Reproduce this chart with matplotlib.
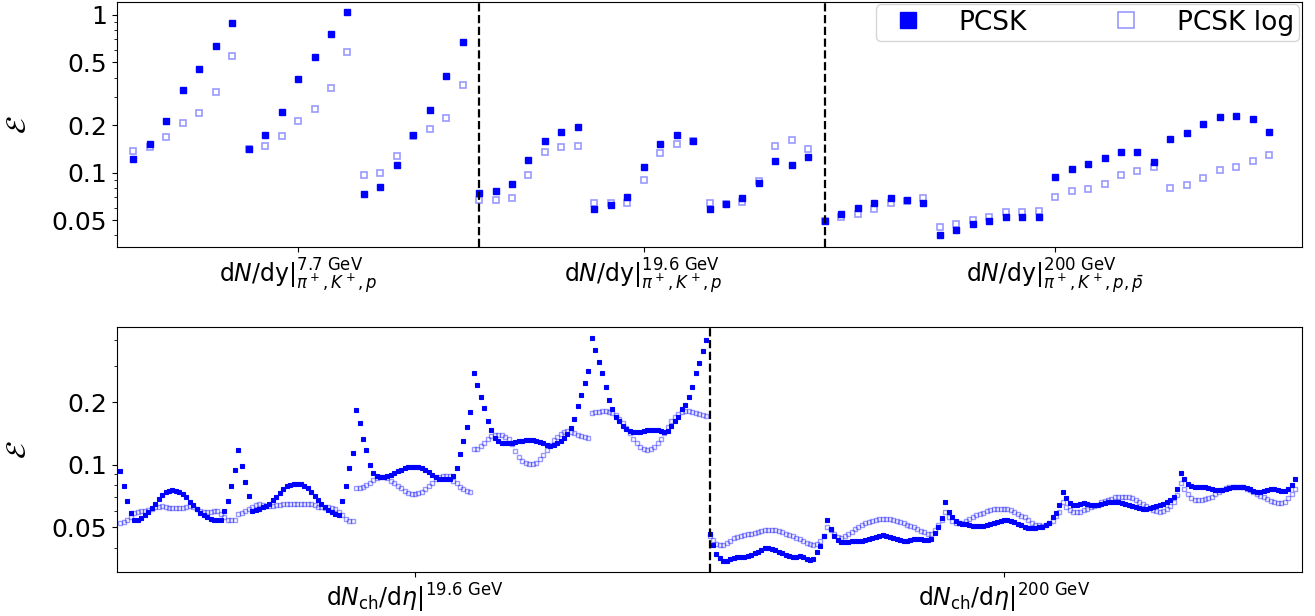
import numpy as np
import matplotlib
matplotlib.use("Agg")
import matplotlib.pyplot as plt
from matplotlib.ticker import NullFormatter

plt.rcParams["font.size"] = 18

## Identified-particle yields: pi+, K+, p (and pbar at 200 GeV), 7 centralities each

pcsk_77 = [0.122, 0.152, 0.212, 0.334, 0.456, 0.638, 0.886,
           0.141, 0.174, 0.242, 0.393, 0.541, 0.758, 1.04,
           0.073, 0.081, 0.112, 0.173, 0.248, 0.410, 0.677]
log_77 = [0.138, 0.146, 0.168, 0.206, 0.238, 0.323, 0.552,
          0.141, 0.148, 0.171, 0.212, 0.252, 0.344, 0.580,
          0.097, 0.100, 0.127, 0.172, 0.189, 0.222, 0.360]
pcsk_196 = [0.074, 0.076, 0.085, 0.120, 0.159, 0.182, 0.196,
            0.059, 0.062, 0.070, 0.109, 0.153, 0.173, 0.159,
            0.059, 0.063, 0.069, 0.086, 0.119, 0.112, 0.126]
log_196 = [0.067, 0.067, 0.069, 0.096, 0.135, 0.146, 0.148,
           0.064, 0.064, 0.064, 0.090, 0.134, 0.151, 0.159,
           0.064, 0.063, 0.065, 0.089, 0.148, 0.161, 0.141]
pcsk_200 = [0.049, 0.055, 0.060, 0.064, 0.069, 0.067, 0.064,
            0.040, 0.043, 0.047, 0.049, 0.052, 0.052, 0.052,
            0.094, 0.105, 0.113, 0.123, 0.136, 0.136, 0.117,
            0.164, 0.179, 0.203, 0.224, 0.229, 0.219, 0.180]
log_200 = [0.049, 0.052, 0.055, 0.059, 0.064, 0.066, 0.069,
           0.045, 0.047, 0.050, 0.052, 0.056, 0.056, 0.057,
           0.070, 0.076, 0.079, 0.085, 0.096, 0.102, 0.108,
           0.080, 0.084, 0.093, 0.104, 0.109, 0.119, 0.129]

top_labels = [r'd$N$/dy$|^{7.7\ \rm GeV}_{\pi^+,K^+,p}$',
              r'd$N$/dy$|^{19.6\ \rm GeV}_{\pi^+,K^+,p}$',
              r'd$N$/dy$|^{200\ \rm GeV}_{\pi^+,K^+,p,\bar{p}}$']

## Charged-particle dN/deta, 5 centrality bins x 34 eta bins per energy

chg196_pcsk = [
    [0.093, 0.079, 0.067, 0.059, 0.054, 0.054, 0.0557, 0.0574, 0.0596, 0.062, 0.065, 0.0686,
     0.072, 0.074, 0.0752, 0.0758, 0.0752, 0.0743, 0.0725, 0.070, 0.0666, 0.064, 0.0614, 0.059,
     0.0574, 0.056, 0.0548, 0.0541, 0.0541, 0.0543, 0.0598, 0.0673, 0.0795, 0.094],
    [0.1185, 0.099, 0.083, 0.0711, 0.060, 0.0604, 0.0614, 0.0625, 0.0635, 0.065, 0.0675, 0.0704,
     0.0735, 0.0766, 0.079, 0.0804, 0.0813, 0.0813, 0.0806, 0.0793, 0.0772, 0.0743, 0.0711, 0.0678,
     0.065, 0.0626, 0.0607, 0.0594, 0.0581, 0.0574, 0.0673, 0.0795, 0.0964, 0.1145],
    [0.184, 0.159, 0.134, 0.118, 0.100, 0.091, 0.0885, 0.0875, 0.0875, 0.088, 0.089, 0.091,
     0.093, 0.095, 0.0965, 0.0975, 0.098, 0.098, 0.0975, 0.0965, 0.0945, 0.092, 0.089, 0.087,
     0.0855, 0.0855, 0.0855, 0.086, 0.088, 0.0964, 0.1126, 0.131, 0.153, 0.180],
    [0.278, 0.243, 0.213, 0.187, 0.163, 0.147, 0.135, 0.130, 0.128, 0.127, 0.127, 0.128,
     0.129, 0.130, 0.131, 0.132, 0.132, 0.132, 0.131, 0.129, 0.127, 0.125, 0.124, 0.125,
     0.128, 0.131, 0.135, 0.141, 0.150, 0.166, 0.192, 0.216, 0.248, 0.284],
    [0.407, 0.358, 0.314, 0.276, 0.236, 0.206, 0.185, 0.171, 0.162, 0.154, 0.149, 0.146,
     0.144, 0.144, 0.144, 0.146, 0.147, 0.147, 0.147, 0.147, 0.145, 0.144, 0.146, 0.154,
     0.162, 0.171, 0.185, 0.194, 0.212, 0.238, 0.278, 0.311, 0.353, 0.398],
]
chg196_log = [
    [0.0527, 0.053, 0.054, 0.0564, 0.0585, 0.0596, 0.060, 0.060, 0.0607, 0.0614, 0.0626, 0.063,
     0.0635, 0.063, 0.0623, 0.062, 0.0618, 0.062, 0.0623, 0.063, 0.0635, 0.063, 0.0614, 0.0603,
     0.0596, 0.0594, 0.0596, 0.0603, 0.0603, 0.0581, 0.056, 0.054, 0.054, 0.054],
    [0.058, 0.059, 0.060, 0.0616, 0.063, 0.064, 0.0645, 0.064, 0.0635, 0.0635, 0.0637, 0.064,
     0.0643, 0.0648, 0.065, 0.065, 0.0648, 0.0645, 0.0645, 0.0648, 0.0648, 0.0645, 0.064, 0.063,
     0.0626, 0.0623, 0.0626, 0.0623, 0.061, 0.0596, 0.0574, 0.055, 0.0535, 0.0535],
    [0.0772, 0.0772, 0.0786, 0.080, 0.0822, 0.0844, 0.0863, 0.0873, 0.0873, 0.0863, 0.084, 0.082,
     0.0795, 0.0772, 0.0752, 0.0735, 0.0728, 0.0725, 0.073, 0.0743, 0.0766, 0.0795, 0.0822, 0.0853,
     0.0873, 0.088, 0.088, 0.088, 0.084, 0.0816, 0.0786, 0.0764, 0.0752, 0.074],
    [0.119, 0.1197, 0.1235, 0.127, 0.133, 0.138, 0.1395, 0.1395, 0.1395, 0.137, 0.133, 0.126,
     0.1172, 0.1096, 0.105, 0.102, 0.101, 0.101, 0.1026, 0.107, 0.1117, 0.118, 0.125, 0.132,
     0.137, 0.141, 0.1437, 0.145, 0.1437, 0.142, 0.140, 0.138, 0.137, 0.1354],
    [0.1786, 0.180, 0.1805, 0.181, 0.181, 0.1805, 0.1786, 0.174, 0.167, 0.159, 0.150, 0.142,
     0.134, 0.128, 0.122, 0.119, 0.118, 0.119, 0.122, 0.127, 0.134, 0.142, 0.152, 0.162,
     0.170, 0.175, 0.179, 0.181, 0.181, 0.180, 0.1774, 0.175, 0.174, 0.172],
]
chg200_pcsk = [
    [0.0463, 0.0412, 0.0373, 0.0356, 0.0345, 0.0346, 0.0351, 0.0358, 0.0362, 0.0362, 0.0361, 0.0365,
     0.0369, 0.0375, 0.0382, 0.039, 0.0396, 0.0398, 0.0394, 0.039, 0.0381, 0.0375, 0.037, 0.0365,
     0.0362, 0.0362, 0.0365, 0.0362, 0.0354, 0.0349, 0.0351, 0.0379, 0.0408, 0.0455],
    [0.0543, 0.0494, 0.0455, 0.0435, 0.0427, 0.0427, 0.0427, 0.043, 0.0432, 0.043, 0.043, 0.0435,
     0.0438, 0.0443, 0.0448, 0.0455, 0.0458, 0.0455, 0.045, 0.0446, 0.044, 0.0434, 0.043, 0.043,
     0.0435, 0.0438, 0.044, 0.0438, 0.0435, 0.0435, 0.0438, 0.0469, 0.0505, 0.0557],
    [0.066, 0.0596, 0.056, 0.0538, 0.0527, 0.0522, 0.0518, 0.0514, 0.051, 0.0508, 0.0508, 0.051,
     0.0514, 0.052, 0.0527, 0.0533, 0.0538, 0.054, 0.054, 0.0535, 0.053, 0.0522, 0.0514, 0.0505,
     0.0498, 0.0495, 0.0496, 0.05, 0.0505, 0.0512, 0.0525, 0.056, 0.0589, 0.0642],
    [0.0743, 0.0691, 0.0654, 0.0642, 0.0642, 0.065, 0.0654, 0.065, 0.0642, 0.064, 0.0642, 0.065,
     0.0654, 0.066, 0.0663, 0.0663, 0.066, 0.0654, 0.065, 0.0642, 0.0634, 0.0626, 0.062, 0.0615,
     0.0615, 0.0618, 0.0626, 0.0635, 0.0642, 0.065, 0.066, 0.0678, 0.0704, 0.0764],
    [0.0918, 0.0853, 0.0807, 0.0793, 0.0786, 0.0786, 0.0786, 0.078, 0.0772, 0.0764, 0.0758, 0.0756,
     0.0758, 0.0764, 0.0772, 0.078, 0.0786, 0.0786, 0.078, 0.0772, 0.0764, 0.0752, 0.0743, 0.0743,
     0.0747, 0.0758, 0.0766, 0.0766, 0.0758, 0.0749, 0.0749, 0.0764, 0.0801, 0.0856],
]
chg200_log = [
    [0.0455, 0.0435, 0.0415, 0.0412, 0.0412, 0.042, 0.043, 0.0443, 0.045, 0.0456, 0.0459, 0.0463,
     0.0466, 0.0472, 0.0477, 0.0482, 0.0486, 0.0488, 0.0486, 0.0484, 0.0479, 0.0474, 0.0466, 0.0459,
     0.0455, 0.0446, 0.0438, 0.043, 0.0422, 0.0415, 0.0412, 0.0415, 0.043, 0.0455],
    [0.0501, 0.0486, 0.0463, 0.045, 0.0447, 0.0455, 0.0463, 0.0477, 0.0491, 0.0505, 0.0516, 0.0524,
     0.0531, 0.0539, 0.0543, 0.0548, 0.055, 0.055, 0.0548, 0.0543, 0.0539, 0.0531, 0.0524, 0.0516,
     0.0508, 0.05, 0.0491, 0.0482, 0.0474, 0.0463, 0.0463, 0.0486, 0.0514, 0.0543],
    [0.0596, 0.0564, 0.0539, 0.0527, 0.0524, 0.0527, 0.0537, 0.0548, 0.056, 0.0573, 0.0583, 0.059,
     0.060, 0.0607, 0.0614, 0.0614, 0.0614, 0.0614, 0.0612, 0.0607, 0.0596, 0.058, 0.057, 0.056,
     0.0543, 0.0527, 0.0516, 0.0512, 0.051, 0.0512, 0.0524, 0.0539, 0.0568, 0.0596],
    [0.066, 0.0626, 0.0607, 0.0596, 0.0592, 0.0596, 0.0607, 0.0614, 0.0626, 0.0635, 0.0644, 0.066,
     0.0669, 0.0678, 0.0689, 0.0697, 0.0702, 0.0704, 0.0704, 0.0699, 0.0692, 0.0678, 0.0665, 0.0651,
     0.0637, 0.0622, 0.0607, 0.0598, 0.0596, 0.0601, 0.0614, 0.0635, 0.0665, 0.072],
    [0.0816, 0.0764, 0.0722, 0.0692, 0.0678, 0.0678, 0.0678, 0.0683, 0.0692, 0.0704, 0.0722, 0.0743,
     0.0758, 0.0772, 0.078, 0.0786, 0.0786, 0.0786, 0.078, 0.0769, 0.0758, 0.0743, 0.0725, 0.0711,
     0.0697, 0.0684, 0.0671, 0.066, 0.0654, 0.0654, 0.0665, 0.0692, 0.0725, 0.0764],
]

bottom_labels = [r'd$N_{\rm ch}$/d$\eta|^{19.6\ \rm GeV}$',
                 r'd$N_{\rm ch}$/d$\eta|^{200\ \rm GeV}$']

## Flatten into one observable axis per panel

pcsk_top = np.array(pcsk_77 + pcsk_196 + pcsk_200)
log_top = np.array(log_77 + log_196 + log_200)
x_top = np.arange(len(pcsk_top))
n77, n196 = len(pcsk_77), len(pcsk_196)

pcsk_bot = np.concatenate(chg196_pcsk + chg200_pcsk)
log_bot = np.concatenate(chg196_log + chg200_log)
x_bot = np.arange(len(pcsk_bot))
n196_ch = sum(len(g) for g in chg196_pcsk)

## Figure

fig = plt.figure(figsize=(13.15, 6.16), dpi=100)
W, H = 1315, 616
ax1 = fig.add_axes([117 / W, 1 - 246.7 / H, 1185 / W, 245 / H])
ax2 = fig.add_axes([117 / W, 1 - 572.3 / H, 1185 / W, 245 / H])

ax1.plot(x_top, pcsk_top, 's', color='blue', ms=4, label='PCSK')
ax1.plot(x_top, log_top, 's', color='blue', mfc='none', alpha=0.4, ms=4, mew=1.2, label='PCSK log')
ax1.axvline(n77, color='k', ls='--', lw=1.6)
ax1.axvline(n77 + n196, color='k', ls='--', lw=1.6)
ax1.set_yscale('log')
ax1.set_xlim(-1, len(x_top) + 1)
ax1.set_ylim(0.0339, 1.214)
ax1.set_yticks([0.05, 0.1, 0.2, 0.5, 1])
ax1.set_yticklabels(['0.05', '0.1', '0.2', '0.5', '1'])
ax1.yaxis.set_minor_formatter(NullFormatter())
ax1.set_xticks([10, 31, 56])
ax1.set_xticklabels(top_labels, fontsize=17)
ax1.set_ylabel(r'$\mathcal{E}$', fontsize=20)
ax1.yaxis.set_label_coords(-0.072, 0.5)
ax1.legend(ncol=2, loc='upper right', bbox_to_anchor=(1.0, 1.0), borderaxespad=0.1,
           fontsize=19, markerscale=2.9, borderpad=0.2, handletextpad=0.93,
           columnspacing=2.75)

ax2.plot(x_bot, pcsk_bot, 's', color='blue', ms=3, mew=0.8)
ax2.plot(x_bot, log_bot, 's', color='blue', mfc='none', alpha=0.4, ms=3, mew=1.0)
ax2.axvline(n196_ch, color='k', ls='--', lw=1.6)
ax2.set_yscale('log')
ax2.set_xlim(-1, len(x_bot) + 1)
ax2.set_ylim(0.0304, 0.46)
ax2.set_yticks([0.05, 0.1, 0.2])
ax2.set_yticklabels(['0.05', '0.1', '0.2'])
ax2.yaxis.set_minor_formatter(NullFormatter())
ax2.set_xticks([85, 255])
ax2.set_xticklabels(bottom_labels, fontsize=17)
ax2.set_ylabel(r'$\mathcal{E}$', fontsize=20)
ax2.yaxis.set_label_coords(-0.072, 0.5)

fig.savefig("out.png", dpi=100)
